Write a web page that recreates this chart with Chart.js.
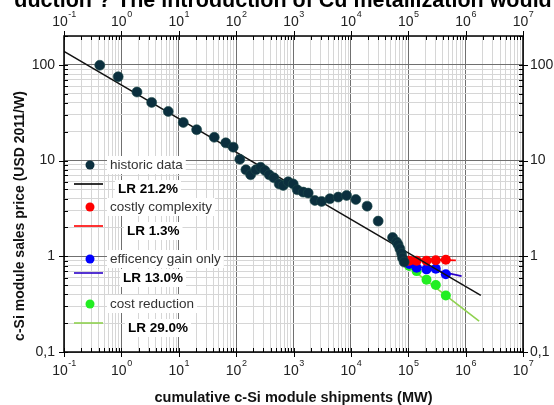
<!DOCTYPE html>
<html>
<head>
<meta charset="utf-8">
<script src="https://cdn.jsdelivr.net/npm/chart.js@4.4.0/dist/chart.umd.min.js"></script>
<style>
html, body { margin: 0; padding: 0; background: #fff; }
#wrap { position: relative; width: 554px; height: 405px; }
</style>
</head>
<body>
<div id="wrap"><canvas id="chart"></canvas></div>
<script>
// Historic c-Si module prices vs cumulative shipments
const histX = [0.42, 0.88, 1.87, 3.37, 6.56, 12, 20.5, 41.6, 66, 89, 116, 148, 179, 221, 267, 318, 377, 456, 563, 662,
    809, 989, 1162, 1477, 1805, 2360, 3085, 4305, 6010, 8410, 12200, 19200, 29900, 53300, 62600, 66700, 71400, 76400, 79400, 84900];
const histY = [99, 75, 52, 40.5, 32.6, 25, 21, 17.5, 15.3, 13.8, 10.3, 8.0, 7.1, 8.0, 8.5, 7.86, 7.1, 6.6, 5.7, 5.5,
    6.0, 5.7, 4.95, 4.68, 4.57, 3.83, 3.74, 3.99, 4.15, 4.32, 3.92, 3.34, 2.33, 1.57, 1.41, 1.32, 1.2, 1.07, 0.96, 0.87];

// Scenario points (same shipment steps for all three)
const scenX = [104000, 140000, 208000, 302000, 452000];
const costlyY = [0.90, 0.90, 0.90, 0.91, 0.92];
const effY = [0.83, 0.76, 0.73, 0.74, 0.65];
const costRedY = [0.79, 0.70, 0.57, 0.50, 0.39];

// Learning-rate fit lines (end points)
const fitHistX = [0.1, 1840000], fitHistY = [138, 0.39];
const fitCostlyX = [93000, 676000], fitCostlyY = [0.94, 0.905];
const fitEffX = [93000, 850000], fitEffY = [0.83, 0.62];
const fitCostRedX = [93000, 1720000], fitCostRedY = [0.81, 0.21];

const legendLabels = ['historic data', 'LR 21.2%', 'costly complexity', 'LR 1.3%', 'efficency gain only', 'LR 13.0%', 'cost reduction', 'LR 29.0%'];
const xExps = [-1, 0, 1, 2, 3, 4, 5, 6, 7];
const yTickVals = [0.1, 1, 10, 100];
const yTickLabels = ['0,1', '1', '10', '100'];

const FONT = '"Liberation Sans", Arial, sans-serif';
const NAVY = '#0b2f3e';

function pts(xs, ys) {
    return xs.map((x, i) => ({ x: x, y: ys[i] }));
}

function isDecade(v) {
    const l = Math.log10(v);
    return Math.abs(l - Math.round(l)) < 1e-6;
}

function logTicks(min, max) {
    const out = [];
    for (let e = Math.floor(Math.log10(min)); e <= Math.ceil(Math.log10(max)); e++) {
        for (let m = 1; m <= 9; m++) {
            const v = parseFloat((m * Math.pow(10, e)).toPrecision(6));
            if (v >= min * 0.9999 && v <= max * 1.0001) out.push({ value: v });
        }
    }
    return out;
}

function drawPow(ctx, exp, cx, cy) {
    ctx.font = '14px ' + FONT;
    const w1 = ctx.measureText('10').width;
    ctx.font = '9px ' + FONT;
    const w2 = ctx.measureText(String(exp)).width;
    const x0 = cx - (w1 + w2) / 2;
    ctx.textAlign = 'left';
    ctx.textBaseline = 'middle';
    ctx.font = '14px ' + FONT;
    ctx.fillText('10', x0, cy);
    ctx.font = '9px ' + FONT;
    ctx.fillText(String(exp), x0 + w1 + 0.5, cy - 7);
}

const axesPlugin = {
    id: 'axesPlugin',
    afterDatasetsDraw(chart) {
        const ctx = chart.ctx;
        const xs = chart.scales.x, ys = chart.scales.y;
        const { left, right, top, bottom } = chart.chartArea;
        ctx.save();

        // legend with white boxes behind the text
        const rows = [
            { type: 'pt', color: NAVY, y: 165, tx: 110, bold: false },
            { type: 'ln', color: '#000', y: 184, tx: 118, bold: true },
            { type: 'pt', color: '#ff0000', y: 207, tx: 110, bold: false },
            { type: 'ln', color: '#ff0000', y: 226, tx: 127, bold: true },
            { type: 'pt', color: '#0000ff', y: 259, tx: 110, bold: false },
            { type: 'ln', color: '#2a00c8', y: 273, tx: 123, bold: true },
            { type: 'pt', color: '#22ee22', y: 304, tx: 110, bold: false },
            { type: 'ln', color: '#8fd14f', y: 323, tx: 128, bold: true }
        ];
        rows.forEach((r, i) => {
            const ty = r.bold ? r.y + 5 : r.y;
            ctx.font = (r.bold ? 'bold ' : '') + '13.5px ' + FONT;
            const w = ctx.measureText(legendLabels[i]).width;
            ctx.fillStyle = '#fff';
            ctx.fillRect(r.tx - 3, ty - 9, w + 6, 18);
            ctx.fillStyle = r.bold ? '#000' : '#333';
            ctx.textAlign = 'left';
            ctx.textBaseline = 'middle';
            ctx.fillText(legendLabels[i], r.tx, ty);
            if (r.type === 'pt') {
                ctx.beginPath();
                ctx.arc(90, r.y, 4.5, 0, Math.PI * 2);
                ctx.fillStyle = r.color;
                ctx.fill();
            } else {
                ctx.beginPath();
                ctx.moveTo(74, r.y);
                ctx.lineTo(103, r.y);
                ctx.strokeStyle = r.color;
                ctx.lineWidth = 1.6;
                ctx.stroke();
            }
        });

        // frame
        ctx.strokeStyle = '#000';
        ctx.lineWidth = 1.5;
        ctx.strokeRect(left, top, right - left, bottom - top);

        // tick marks
        ctx.lineWidth = 1;
        ctx.beginPath();
        xs.ticks.forEach(t => {
            const p = Math.round(xs.getPixelForValue(t.value)) + 0.5;
            const maj = isDecade(t.value);
            ctx.moveTo(p, bottom + (maj ? 5 : 0)); ctx.lineTo(p, bottom - 4);
            ctx.moveTo(p, top - (maj ? 5 : 0)); ctx.lineTo(p, top + 4);
        });
        ys.ticks.forEach(t => {
            const p = Math.round(ys.getPixelForValue(t.value)) + 0.5;
            const maj = isDecade(t.value);
            ctx.moveTo(left - (maj ? 5 : 0), p); ctx.lineTo(left + 4, p);
            ctx.moveTo(right + (maj ? 5 : 0), p); ctx.lineTo(right - 4, p);
        });
        ctx.stroke();

        // tick labels
        ctx.fillStyle = '#222';
        xExps.forEach(e => {
            const p = xs.getPixelForValue(Math.pow(10, e));
            drawPow(ctx, e, p, bottom + 19);
            drawPow(ctx, e, p, top - 14);
        });
        ctx.font = '14px ' + FONT;
        ctx.textBaseline = 'middle';
        yTickVals.forEach((v, i) => {
            const p = ys.getPixelForValue(v);
            ctx.textAlign = 'right';
            ctx.fillText(yTickLabels[i], left - 9, p);
            ctx.textAlign = 'left';
            ctx.fillText(yTickLabels[i], right + 7, p);
        });

        // axis titles
        ctx.fillStyle = '#111';
        ctx.font = 'bold 14.5px ' + FONT;
        ctx.textAlign = 'center';
        ctx.fillText('cumulative c-Si module shipments (MW)', (left + right) / 2, 398);
        ctx.font = 'bold 14px ' + FONT;
        ctx.save();
        ctx.translate(20, 216);
        ctx.rotate(-Math.PI / 2);
        ctx.fillText('c-Si module sales price (USD 2011/W)', 0, 0);
        ctx.restore();

        // cut-off heading line at the very top of the page
        ctx.font = 'bold 21.5px ' + FONT;
        ctx.textAlign = 'left';
        ctx.textBaseline = 'alphabetic';
        ctx.fillStyle = '#000';
        const lead = 'duction ? ';
        const lw = ctx.measureText(lead).width;
        ctx.fillText(lead + 'The introduction of Cu metallization would', 117 - lw, 7);

        ctx.restore();
    }
};

const gridColor = c => (c.tick && isDecade(c.tick.value)) ? '#707070' : '#d6d6d6';

new Chart(document.getElementById('chart'), {
    type: 'scatter',
    data: {
        datasets: [
            { label: 'historic data', data: pts(histX, histY), backgroundColor: NAVY, borderColor: '#1d4a48', borderWidth: 0.6, pointRadius: 5 },
            { label: 'LR 21.2%', data: pts(fitHistX, fitHistY), showLine: true, borderColor: '#111', borderWidth: 1.5, pointRadius: 0 },
            { label: 'costly complexity', data: pts(scenX, costlyY), backgroundColor: '#ff0000', borderWidth: 0, pointRadius: 5 },
            { label: 'efficency gain only', data: pts(scenX, effY), backgroundColor: '#0000ff', borderWidth: 0, pointRadius: 5 },
            { label: 'cost reduction', data: pts(scenX, costRedY), backgroundColor: '#22ee22', borderWidth: 0, pointRadius: 5 },
            { label: 'LR 1.3%', data: pts(fitCostlyX, fitCostlyY), showLine: true, borderColor: '#ff0000', borderWidth: 1.6, pointRadius: 0 },
            { label: 'LR 13.0%', data: pts(fitEffX, fitEffY), showLine: true, borderColor: '#2a00c8', borderWidth: 1.6, pointRadius: 0 },
            { label: 'LR 29.0%', data: pts(fitCostRedX, fitCostRedY), showLine: true, borderColor: '#8fd14f', borderWidth: 1.6, pointRadius: 0 }
        ]
    },
    options: {
        responsive: true,
        maintainAspectRatio: false,
        animation: false,
        layout: { padding: { left: 64, right: 31, top: 36, bottom: 53 } },
        plugins: { legend: { display: false }, tooltip: { enabled: false } },
        scales: {
            x: {
                type: 'logarithmic',
                min: 0.1,
                max: 1e7,
                afterBuildTicks: s => { s.ticks = logTicks(s.min, s.max); },
                ticks: { display: false },
                grid: { drawTicks: false, color: gridColor, lineWidth: 1 },
                border: { display: false }
            },
            y: {
                type: 'logarithmic',
                min: 0.1,
                max: 200,
                afterBuildTicks: s => { s.ticks = logTicks(s.min, s.max); },
                ticks: { display: false },
                grid: { drawTicks: false, color: gridColor, lineWidth: 1 },
                border: { display: false }
            }
        }
    },
    plugins: [axesPlugin]
});
</script>
</body>
</html>
